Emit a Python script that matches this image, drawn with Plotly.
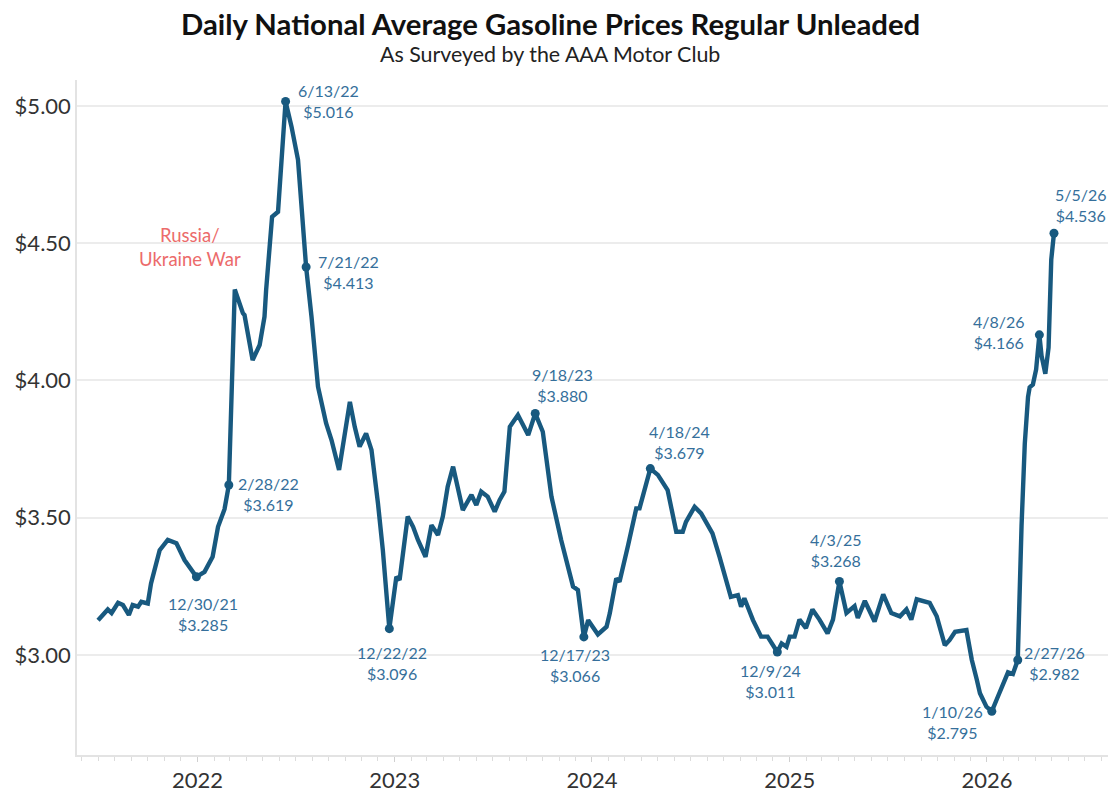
import plotly.graph_objects as go

# ---- data ----
dates = [
    "2021-07-01", "2021-07-19", "2021-07-26", "2021-08-07", "2021-08-16", "2021-08-27",
    "2021-09-03", "2021-09-13", "2021-09-19", "2021-10-01", "2021-10-07", "2021-10-23",
    "2021-11-07", "2021-11-23", "2021-12-08", "2021-12-30", "2022-01-14", "2022-01-29",
    "2022-02-08", "2022-02-20", "2022-02-28", "2022-03-11", "2022-03-26", "2022-03-29",
    "2022-04-13", "2022-04-26", "2022-05-05", "2022-05-08", "2022-05-19", "2022-05-30",
    "2022-06-13", "2022-06-24", "2022-07-06", "2022-07-21", "2022-07-31", "2022-08-12",
    "2022-08-27", "2022-09-06", "2022-09-20", "2022-09-30", "2022-10-10", "2022-10-19",
    "2022-10-28", "2022-11-09", "2022-11-19", "2022-12-01", "2022-12-10", "2022-12-22",
    "2023-01-04", "2023-01-10", "2023-01-25", "2023-02-04", "2023-02-13", "2023-02-27",
    "2023-03-10", "2023-03-22", "2023-03-31", "2023-04-09", "2023-04-19", "2023-05-07",
    "2023-05-23", "2023-06-01", "2023-06-10", "2023-06-22", "2023-07-05", "2023-07-14",
    "2023-07-23", "2023-08-02", "2023-08-17", "2023-09-05", "2023-09-18", "2023-10-02",
    "2023-10-18", "2023-11-05", "2023-11-27", "2023-12-06", "2023-12-17", "2023-12-25",
    "2024-01-12", "2024-01-28", "2024-02-03", "2024-02-15", "2024-02-21", "2024-03-08",
    "2024-03-23", "2024-03-29", "2024-04-18", "2024-05-02", "2024-05-20", "2024-06-05",
    "2024-06-17", "2024-06-23", "2024-07-09", "2024-07-21", "2024-08-11", "2024-08-24",
    "2024-09-14", "2024-09-27", "2024-10-03", "2024-10-09", "2024-10-25", "2024-11-09",
    "2024-11-21", "2024-12-09", "2024-12-17", "2024-12-26", "2025-01-01", "2025-01-10",
    "2025-01-19", "2025-01-31", "2025-02-12", "2025-02-25", "2025-03-12", "2025-03-22",
    "2025-04-03", "2025-04-16", "2025-05-01", "2025-05-07", "2025-05-20", "2025-06-07",
    "2025-06-23", "2025-07-08", "2025-07-24", "2025-08-05", "2025-08-14", "2025-08-24",
    "2025-09-17", "2025-09-30", "2025-10-15", "2025-10-24", "2025-11-03", "2025-11-24",
    "2025-12-04", "2025-12-13", "2025-12-19", "2025-12-31", "2026-01-10", "2026-01-19",
    "2026-01-28", "2026-02-09", "2026-02-18", "2026-02-27", "2026-03-06", "2026-03-12",
    "2026-03-18", "2026-03-21", "2026-03-27", "2026-04-02", "2026-04-08", "2026-04-12",
    "2026-04-19", "2026-04-25", "2026-04-30", "2026-05-05",
]
prices = [
    3.127, 3.166, 3.153, 3.190, 3.182, 3.146,
    3.182, 3.176, 3.194, 3.188, 3.261, 3.382,
    3.419, 3.407, 3.346, 3.285, 3.303, 3.358,
    3.467, 3.531, 3.619, 4.331, 4.245, 4.238,
    4.074, 4.129, 4.232, 4.329, 4.596, 4.614,
    5.016, 4.924, 4.803, 4.413, 4.232, 3.977,
    3.844, 3.783, 3.674, 3.795, 3.922, 3.831,
    3.759, 3.807, 3.747, 3.552, 3.382, 3.096,
    3.285, 3.273, 3.504, 3.467, 3.419, 3.358,
    3.473, 3.437, 3.504, 3.613, 3.686, 3.528,
    3.583, 3.546, 3.595, 3.577, 3.522, 3.564,
    3.595, 3.831, 3.874, 3.801, 3.880, 3.813,
    3.577, 3.419, 3.249, 3.237, 3.066, 3.127,
    3.075, 3.103, 3.152, 3.279, 3.267, 3.401,
    3.534, 3.534, 3.679, 3.656, 3.601, 3.449,
    3.449, 3.485, 3.540, 3.516, 3.443, 3.358,
    3.212, 3.218, 3.176, 3.207, 3.127, 3.067,
    3.067, 3.011, 3.042, 3.030, 3.067, 3.067,
    3.129, 3.098, 3.166, 3.129, 3.079, 3.129,
    3.268, 3.153, 3.178, 3.135, 3.197, 3.122,
    3.221, 3.153, 3.141, 3.166, 3.129, 3.203,
    3.190, 3.141, 3.036, 3.055, 3.085, 3.091,
    2.982, 2.912, 2.861, 2.812, 2.795, 2.838,
    2.881, 2.937, 2.931, 2.982, 3.470, 3.770,
    3.940, 3.975, 3.985, 4.040, 4.166, 4.090,
    4.024, 4.120, 4.440, 4.536,
]

# labelled points
ann_dates = ["2021-12-30", "2022-02-28", "2022-06-13", "2022-07-21", "2022-12-22",
             "2023-09-18", "2023-12-17", "2024-04-18", "2024-12-09", "2025-04-03",
             "2026-01-10", "2026-02-27", "2026-04-08", "2026-05-05"]
ann_prices = [3.285, 3.619, 5.016, 4.413, 3.096,
              3.880, 3.066, 3.679, 3.011, 3.268,
              2.795, 2.982, 4.166, 4.536]

y_ticks = [3.0, 3.5, 4.0, 4.5, 5.0]
y_tick_labels = ["$3.00", "$3.50", "$4.00", "$4.50", "$5.00"]

title_text = "Daily National Average Gasoline Prices Regular Unleaded"
subtitle_text = "As Surveyed by the AAA Motor Club"
event_text = "Russia/<br>Ukraine War"
event_date = "2021-12-18"
event_price = 4.486

# ---- styling ----
LINE = "#18597f"
LABEL = "#356f9b"
FONT = "Lato"
# label offsets in pixels (xshift, yshift) for each labelled point
offsets = [(7, -37), (42, 0), (43, 0), (42, -5), (3, -34),
           (27, 28), (-9, -28), (29, 27), (-7, -29), (-3, 31),
           (-39, -11), (37, -3), (-40, 3), (27, 28)]
offsets[1] = (40, -9)


def fmt_date(s):
    y, m, d = s.split("-")
    return f"{int(m)}/{int(d)}/{y[2:]}"


fig = go.Figure()
fig.add_trace(go.Scatter(
    x=dates, y=prices, mode="lines",
    line=dict(color=LINE, width=4.4), hoverinfo="x+y", showlegend=False,
))
fig.add_trace(go.Scatter(
    x=ann_dates, y=ann_prices, mode="markers",
    marker=dict(color=LINE, size=9), showlegend=False,
))

annotations = []
for d, p, (dx, dy) in zip(ann_dates, ann_prices, offsets):
    annotations.append(dict(
        x=d, y=p, xref="x", yref="y", showarrow=False,
        text=f"{fmt_date(d)}<br>${p:.3f}", align="center",
        xshift=dx, yshift=dy,
        font=dict(family=FONT, size=16, color=LABEL),
    ))
annotations.append(dict(
    x=event_date, y=event_price, xref="x", yref="y", showarrow=False,
    text=event_text, align="center",
    font=dict(family=FONT, size=18.5, color="#ec6b6b"),
))
annotations.append(dict(
    x=0.459, y=1.0830, xref="paper", yref="paper", showarrow=False,
    text=f"<b>{title_text}</b>", xanchor="center", yanchor="middle",
    font=dict(family=FONT, size=29.3, color="#111111"),
))
annotations.append(dict(
    x=0.459, y=1.039, xref="paper", yref="paper", showarrow=False,
    text=subtitle_text, xanchor="center", yanchor="middle",
    font=dict(family=FONT, size=21.4, color="#222222"),
))

fig.update_layout(
    width=1111, height=792,
    margin=dict(l=77, r=3, t=80, b=37),
    paper_bgcolor="white", plot_bgcolor="white",
    font=dict(family=FONT, color="#333333"),
    annotations=annotations,
    showlegend=False,
)
fig.update_xaxes(
    range=["2021-05-23", "2026-08-13"],
    type="date", dtick="M12", tick0="2022-01-01", tickformat="%Y",
    showgrid=False, showline=True, linecolor="#e3e3e3", linewidth=1.5,
    ticks="outside", ticklen=5, tickcolor="#d0d0d0",
    minor=dict(dtick="M1", ticks="outside", ticklen=4, tickcolor="#dcdcdc", showgrid=False),
    tickfont=dict(family=FONT, size=22, color="#333333"),
    zeroline=False, automargin=False,
)
fig.update_yaxes(
    range=[2.636, 5.094],
    tickmode="array", tickvals=y_ticks, ticktext=y_tick_labels,
    showgrid=True, gridcolor="#ececec", gridwidth=1.5,
    showline=True, linecolor="#e3e3e3", linewidth=1.5,
    ticks="", tickfont=dict(family=FONT, size=22, color="#333333"),
    zeroline=False, automargin=False,
)

fig.write_html(
    "out.html",
    config={"displayModeBar": False},
    post_script="document.body.style.margin='0';document.body.style.overflow='hidden';",
)
